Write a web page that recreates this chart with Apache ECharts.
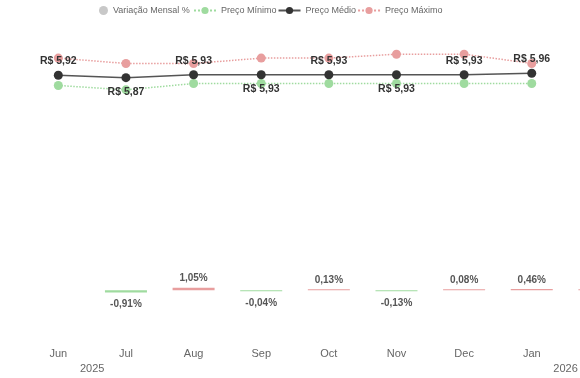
<!DOCTYPE html>
<html>
<head>
<meta charset="utf-8">
<script src="https://cdn.jsdelivr.net/npm/echarts@6/dist/echarts.min.js"></script>
<style>
  html, body { margin: 0; padding: 0; background: #fff; }
  #chart { width: 580px; height: 378px; }
</style>
</head>
<body>
<div id="chart"></div>
<script>
const months = ['Jun', 'Jul', 'Aug', 'Sep', 'Oct', 'Nov', 'Dec', 'Jan', 'Feb'];
const monthYears = ['2025', '2025', '2025', '2025', '2025', '2025', '2025', '2026', '2026'];
const variacaoMensal = [null, -0.91, 1.05, -0.04, 0.13, -0.13, 0.08, 0.46, 0.2];
const precoMinimo = [5.71, 5.62, 5.75, 5.75, 5.75, 5.75, 5.75, 5.75, null];
const precoMedio = [5.92, 5.87, 5.93, 5.93, 5.93, 5.93, 5.93, 5.96, null];
const precoMaximo = [6.27, 6.16, 6.16, 6.27, 6.27, 6.35, 6.35, 6.16, null];

const font = "'Liberation Sans', Arial, sans-serif";
const pink = '#e89e9e';
const green = '#9fdb9f';

// year label sits just after the first month of each year
const yearMarks = {};
monthYears.forEach((y, i) => { if (!Object.values(yearMarks).includes(y)) yearMarks[i + 1] = y; });

// which average labels go under the point
const labelsBelow = [1, 3, 5];

const fmtBR = (v, d) => v.toFixed(d).replace('.', ',');

const chart = echarts.init(document.getElementById('chart'));

chart.setOption({
  animation: false,
  textStyle: { fontFamily: font },
  legend: [
    {
      left: 99, top: 6, padding: 0,
      itemWidth: 9, itemHeight: 9, itemGap: 4,
      textStyle: { fontSize: 9, color: '#666' },
      data: [{ name: 'Variação Mensal %', icon: 'circle', itemStyle: { color: '#c8c8c8' } }],
    },
    {
      left: 193, top: 6, padding: 0,
      itemWidth: 22, itemHeight: 9, itemGap: 1,
      textStyle: { fontSize: 9, color: '#666' },
      data: ['Preço Mínimo', 'Preço Médio', 'Preço Máximo'],
    },
  ],
  grid: { left: 24.5, width: 608.7, top: 20, bottom: 38, outerBoundsMode: 'none' },
  xAxis: [
    {
      type: 'category',
      data: months,
      axisLine: { show: false },
      axisTick: { show: false },
      axisLabel: { fontSize: 11, color: '#666', margin: 8, interval: 0 },
    },
    {
      type: 'value',
      position: 'bottom',
      offset: 15,
      min: 0, max: months.length, interval: 1,
      axisLine: { show: false },
      axisTick: { show: false },
      splitLine: { show: false },
      axisLabel: {
        fontSize: 11, color: '#666', margin: 8,
        showMinLabel: false, showMaxLabel: false,
        formatter: (v) => yearMarks[v] || '',
      },
    },
  ],
  yAxis: [
    { type: 'value', min: 0.5, max: 7.05, show: false },
    { type: 'value', min: -20.75, max: 112.6, show: false },
  ],
  series: [
    {
      name: 'Variação Mensal %',
      type: 'bar',
      yAxisIndex: 1,
      barWidth: 42,
      barMinHeight: 1,
      data: variacaoMensal.map((v) => (v == null ? null : {
        value: v,
        itemStyle: { color: v >= 0 ? pink : green },
        label: { position: v >= 0 ? 'top' : 'bottom', distance: v >= 0 ? 4 : 7 },
      })),
      label: {
        show: true,
        fontSize: 10, fontWeight: 'bold', color: '#555',
        formatter: (p) => fmtBR(p.value, 2) + '%',
      },
    },
    {
      name: 'Preço Mínimo',
      type: 'line',
      data: precoMinimo,
      symbol: 'circle', symbolSize: 9,
      itemStyle: { color: green },
      lineStyle: { color: green, width: 1.5, type: 'dotted' },
    },
    {
      name: 'Preço Médio',
      type: 'line',
      data: precoMedio.map((v, i) => ({
        value: v,
        label: { position: labelsBelow.includes(i) ? 'bottom' : 'top' },
      })),
      symbol: 'circle', symbolSize: 9,
      z: 4,
      itemStyle: { color: '#333' },
      lineStyle: { color: '#555', width: 1.5 },
      label: {
        show: true,
        fontSize: 10.5, fontWeight: 'bold', color: '#333',
        distance: 4,
        formatter: (p) => 'R$ ' + fmtBR(p.value, 2),
      },
    },
    {
      name: 'Preço Máximo',
      type: 'line',
      data: precoMaximo,
      symbol: 'circle', symbolSize: 9,
      z: 3,
      itemStyle: { color: pink },
      lineStyle: { color: pink, width: 1.5, type: 'dotted' },
    },
  ],
});
</script>
</body>
</html>
